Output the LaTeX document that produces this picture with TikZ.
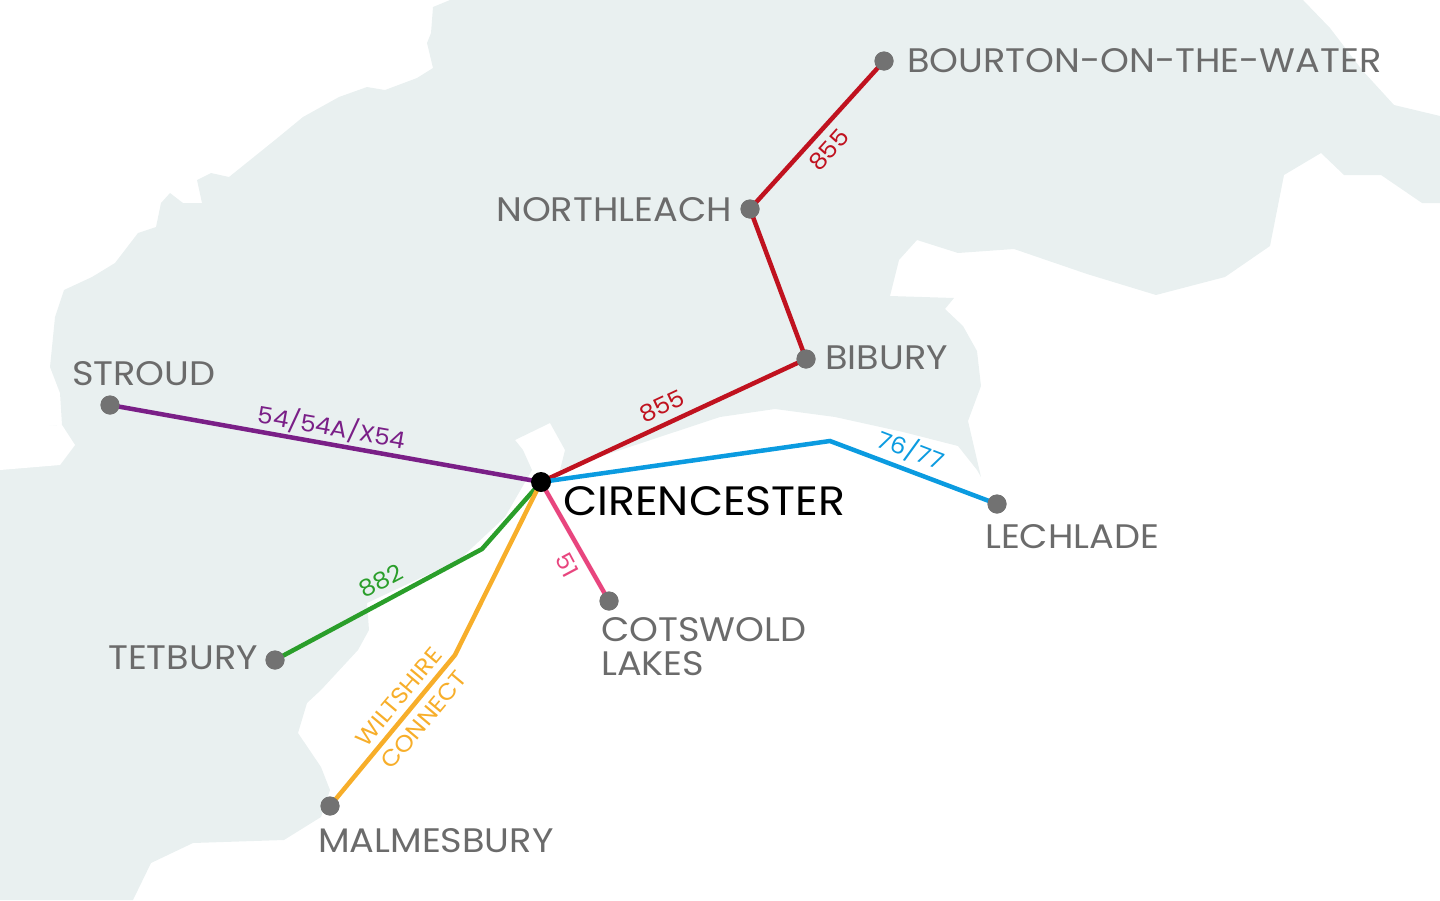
\documentclass[tikz,border=0pt]{standalone}
\usepackage{fontspec}
\setmainfont{Poppins}[FakeStretch=1.08]
\begin{document}
\begin{tikzpicture}[x=1pt,y=-1pt,
  stop/.style={circle,fill=dotgray,inner sep=0pt,minimum size=19pt},
  place/.style={text=txtgray,font=\fontsize{34}{38}\selectfont,inner sep=0pt},
  route/.style={line width=4.5pt},
  rlab/.style={font=\fontsize{23}{25}\selectfont,inner sep=0pt}]
\definecolor{landc}{HTML}{E9F0F0}
\definecolor{dotgray}{HTML}{727272}
\definecolor{txtgray}{HTML}{6B6B6B}
\definecolor{r855}{HTML}{C0121F}
\definecolor{rpurple}{HTML}{7A1F87}
\definecolor{rblue}{HTML}{0B9BE0}
\definecolor{rgreen}{HTML}{2A9E2A}
\definecolor{rorange}{HTML}{F7AE2A}
\definecolor{rpink}{HTML}{E8457E}
\useasboundingbox (0,0) rectangle (1440,900);
% land
\fill[landc] (450,0) -- (433,7) -- (431,33) -- (427,43) -- (433,68) -- (417,78) -- (385,90) -- (367,87) -- (339,97) -- (303,117) -- (275,140) -- (229,177) -- (211,173) -- (197,180) -- (202,203) -- (183,203) -- (170,193) -- (161,203) -- (156,227) -- (138,233) -- (115,263) -- (92,277) -- (64,290) -- (55,317) -- (50,367) -- (60,393) -- (62,425) -- (0,430) -- (0,900) -- (133,900) -- (151,863) -- (193,843) -- (284,840) -- (321,817) -- (330,790) -- (321,767) -- (298,733) -- (307,703) -- (321,690) -- (358,650) -- (369,630) -- (367,603) -- (459,560) -- (505,517) -- (532,470) -- (523,450) -- (515,440) -- (550,423) -- (565,450) -- (560,470) -- (720,417) -- (775,409) -- (835,417) -- (903,432) -- (958,446) -- (977,470) -- (981,477) -- (968,421) -- (981,386) -- (977,351) -- (963,326) -- (945,309) -- (954,298) -- (890,296) -- (899,260) -- (917,240) -- (958,253) -- (1014,249) -- (1087,274) -- (1156,295) -- (1225,277) -- (1270,246) -- (1284,175) -- (1321,153) -- (1344,175) -- (1381,175) -- (1422,203) -- (1440,203) -- (1440,116) -- (1394,105) -- (1362,70) -- (1330,28) -- (1303,0) -- cycle;
\fill[white] (0,428) -- (62,425) -- (75,445) -- (60,465) -- (0,470) -- cycle;
% stops
\coordinate (C) at (541,482);
\node[stop] (stroud) at (110,405) {};
\node[stop] (bibury) at (806,359) {};
\node[stop] (north) at (750,209) {};
\node[stop] (bourton) at (884,61) {};
\node[stop] (lech) at (997,504) {};
\node[stop] (lakes) at (609,601) {};
\node[stop] (tet) at (275,660) {};
\node[stop] (malm) at (330,806) {};
\coordinate (bb) at (830,441);
\coordinate (gb) at (482,549);
\coordinate (ob) at (455,655);
% routes
\draw[route,rpurple] (C) -- (stroud.center);
\draw[route,r855] (C) -- (bibury.center) -- (north.center) -- (bourton.center);
\draw[route,rblue] (C) -- (bb) -- (lech.center);
\draw[route,rpink] (C) -- (lakes.center);
\draw[route,rgreen] (C) -- (gb) -- (tet.center);
\draw[route,rorange] (C) -- (ob) -- (malm.center);
\foreach \n in {stroud,bibury,north,bourton,lech,lakes,tet,malm} \node[stop] at (\n) {};
\node[circle,fill=black,inner sep=0pt,minimum size=20pt] (cir) at (C) {};
% route labels
\node[rlab,text=r855,rotate=48] (l1) at (829,150) {855};
\node[rlab,text=r855,rotate=25] (l2) at (662,406) {855};
\node[rlab,text=rpurple,rotate=-10] (l3) at (332,427) {54/54A/X54};
\node[rlab,text=rblue,rotate=-21] (l4) at (911,450) {76/77};
\node[rlab,text=rpink,rotate=-62] (l5) at (567,565) {51};
\node[rlab,text=rgreen,rotate=28] (l6) at (381,581) {882};
\node[rlab,text=rorange,rotate=50] (l7) at (399,697) {WILTSHIRE};
\node[rlab,text=rorange,rotate=50] (l8) at (424,720) {CONNECT};
% place labels
\node[place,anchor=west] (t1) at (72,374) {STROUD};
\node[place,anchor=west] (t2) at (907,61) {BOURTON-ON-THE-WATER};
\node[place,anchor=east] (t3) at (732,210) {NORTHLEACH};
\node[place,anchor=west] (t4) at (825,358) {BIBURY};
\node[place,anchor=west,text=black,font=\fontsize{41}{44}\selectfont] (t5) at (563,501) {CIRENCESTER};
\node[place,anchor=west] (t6) at (985,537) {LECHLADE};
\node[place,anchor=north west,align=left,font=\fontsize{34}{34}\selectfont] (t7) at (601,617) {COTSWOLD\\LAKES};
\node[place,anchor=east] (t8) at (258,658) {TETBURY};
\node[place,anchor=west] (t9) at (318,841) {MALMESBURY};
\end{tikzpicture}
\end{document}
